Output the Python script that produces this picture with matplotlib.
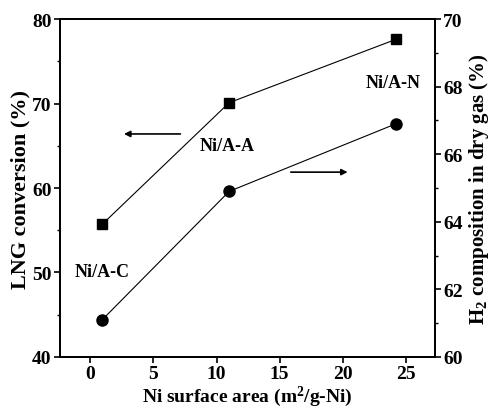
import numpy as np
import matplotlib
matplotlib.use('Agg')
import matplotlib.pyplot as plt
from matplotlib.ticker import MultipleLocator

plt.rcParams['font.family'] = ['Liberation Serif', 'DejaVu Serif']
plt.rcParams['font.weight'] = 'bold'
plt.rcParams['mathtext.fontset'] = 'custom'
plt.rcParams['mathtext.rm'] = 'Liberation Serif:bold'
plt.rcParams['mathtext.default'] = 'rm'

# data
area = [0.95, 11.0, 24.2]               # Ni surface area (m2/g-Ni)
lng_conv = [55.7, 70.1, 77.6]           # LNG conversion (%)
h2_comp = [61.1, 64.9, 66.9]            # H2 composition in dry gas (%)
cat_names = ['Ni/A-C', 'Ni/A-A', 'Ni/A-N']
name_x = [0.95, 10.85, 24.0]
name_y = [50.1, 65.0, 72.5]             # in left-axis units

fig = plt.figure(figsize=(4.91, 4.10), dpi=100)
ax1 = fig.add_axes([0.122, 0.127, 0.764, 0.824])
ax2 = ax1.twinx()

ax1.plot(area, lng_conv, 'k-', lw=0.8, marker='s', ms=7.5)
ax2.plot(area, h2_comp, 'k-', lw=0.8, marker='o', ms=8)

ax1.set_xlim(-2.4, 27.3)
ax1.set_ylim(40, 80)
ax2.set_ylim(60, 70)
ax1.xaxis.set_major_locator(MultipleLocator(5))
ax1.yaxis.set_major_locator(MultipleLocator(10))
ax1.yaxis.set_minor_locator(MultipleLocator(5))
ax2.yaxis.set_major_locator(MultipleLocator(2))
ax2.yaxis.set_minor_locator(MultipleLocator(1))

for ax in (ax1, ax2):
    ax.tick_params(which='major', direction='out', length=4, width=1.2, labelsize=14, pad=2)
    ax.tick_params(which='minor', direction='out', length=2, width=1)
    for s in ax.spines.values():
        s.set_linewidth(1.3)

ax1.set_xlabel('Ni surface area (m$^2$/g-Ni)', fontsize=14, fontweight='bold', labelpad=1)
ax1.set_ylabel('LNG conversion (%)', fontsize=16, fontweight='bold', labelpad=1)
ax2.set_ylabel('H$_2$ composition in dry gas (%)', fontsize=15, fontweight='bold', labelpad=3)

for n, x, y in zip(cat_names, name_x, name_y):
    ax1.text(x, y, n, fontsize=13, fontweight='bold', ha='center', va='center')

ax1.annotate('', xy=(2.45, 66.4), xytext=(7.36, 66.4),
             arrowprops=dict(arrowstyle='-|>', color='k', lw=1.2, mutation_scale=9))
ax2.annotate('', xy=(20.6, 65.47), xytext=(15.66, 65.47),
             arrowprops=dict(arrowstyle='-|>', color='k', lw=1.2, mutation_scale=9))

fig.savefig('out.png', dpi=100)
